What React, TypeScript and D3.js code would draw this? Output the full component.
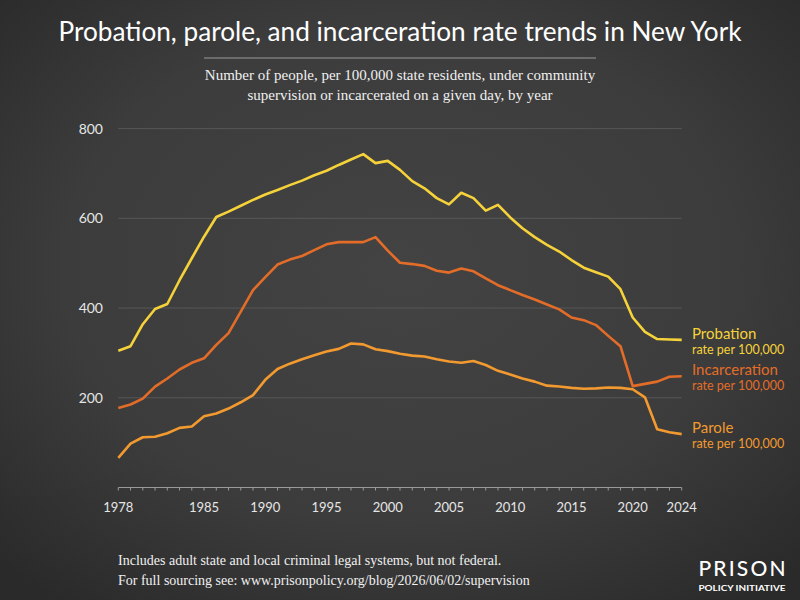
import React, { useEffect } from "react";
import * as d3 from "d3";

const years: number[] = d3.range(1978, 2025);

const probation: number[] = [
  305, 315, 364, 398, 409, 462, 511, 559, 603, 615, 628, 641, 653, 663, 674, 684,
  696, 706, 719, 731, 743, 723, 728, 708, 683, 667, 645, 631, 657, 645, 617, 630,
  602, 578, 558, 541, 526, 507, 490, 480, 470, 442, 379, 347, 331, 330, 329,
];

const incarceration: number[] = [
  177, 185, 198, 225, 243, 263, 278, 288, 318, 344, 392, 440, 469, 497, 508, 516,
  529, 542, 547, 547, 547, 558, 528, 501, 498, 494, 483, 479, 488, 482, 466, 451,
  440, 429, 419, 408, 397, 379, 373, 362, 338, 315, 226, 231, 236, 247, 248,
];

const parole: number[] = [
  66, 98, 112, 113, 121, 133, 136, 159, 165, 176, 190, 206, 240, 264, 276, 286,
  295, 303, 309, 321, 319, 308, 304, 298, 294, 292, 286, 281, 278, 282, 273, 260,
  252, 243, 236, 227, 225, 222, 220, 221, 223, 222, 219, 201, 130, 123, 119,
];

const seriesNames: string[] = ["Probation", "Incarceration", "Parole"];
const seriesColors: string[] = ["#f6d23a", "#e36d28", "#f29a30"];
const yTicks: number[] = [200, 400, 600, 800];
const xLabelYears: number[] = [1978, 1985, 1990, 1995, 2000, 2005, 2010, 2015, 2020, 2024];

export default function App() {
  useEffect(() => {
    document.body.style.margin = "0";
  }, []);

  const x = d3.scaleLinear().domain([1978, 2024]).range([118.3, 681.7]);
  const y = d3.scaleLinear().domain([0, 800]).range([487.5, 128.6]);

  const line = d3
    .line<number>()
    .x((_, i) => x(years[i]))
    .y((v) => y(v));

  const allSeries = [probation, incarceration, parole];
  const sans = "Lato, 'Open Sans', sans-serif";
  const serif = "'Liberation Serif', 'DejaVu Serif', serif";

  return (
    <svg
      width={800}
      height={600}
      style={{ position: "absolute", left: 0, top: 0, display: "block" }}
    >
      <defs>
        <radialGradient id="bg" cx="50%" cy="45%" r="70%">
          <stop offset="0%" stopColor="#434343" />
          <stop offset="60%" stopColor="#3c3c3c" />
          <stop offset="100%" stopColor="#2a2a2a" />
        </radialGradient>
      </defs>
      <rect x={0} y={0} width={800} height={600} fill="url(#bg)" />

      {/* Title */}
      <text
        x={400}
        y={41}
        textAnchor="middle"
        fill="#ffffff"
        fontFamily={sans}
        fontSize={26}
        textLength={683}
        lengthAdjust="spacingAndGlyphs"
      >
        Probation, parole, and incarceration rate trends in New York
      </text>
      <line x1={204} x2={596} y1={58} y2={58} stroke="#9a9a9a" strokeWidth={1} />
      <text x={400} y={80} textAnchor="middle" fill="#f0f0f0" fontFamily={serif} fontSize={15}>
        Number of people, per 100,000 state residents, under community
      </text>
      <text x={400} y={100} textAnchor="middle" fill="#f0f0f0" fontFamily={serif} fontSize={15}>
        supervision or incarcerated on a given day, by year
      </text>

      {/* Gridlines */}
      {yTicks.map((t) => (
        <line
          key={"g" + t}
          x1={x(1978)}
          x2={x(2024)}
          y1={y(t)}
          y2={y(t)}
          stroke="#575757"
          strokeWidth={1}
        />
      ))}
      {yTicks.map((t) => (
        <text
          key={"yl" + t}
          x={103}
          y={y(t) + 5}
          textAnchor="end"
          fill="#e6e6e6"
          fontFamily={sans}
          fontSize={14}
        >
          {t}
        </text>
      ))}

      {/* X axis */}
      <line x1={x(1978)} x2={x(2024)} y1={y(0)} y2={y(0)} stroke="#9a9a9a" strokeWidth={1} />
      {years.map((yr) => (
        <line
          key={"t" + yr}
          x1={x(yr)}
          x2={x(yr)}
          y1={y(0)}
          y2={y(0) + 3}
          stroke="#9a9a9a"
          strokeWidth={1}
        />
      ))}
      {xLabelYears.map((yr) => (
        <text
          key={"xl" + yr}
          x={x(yr)}
          y={512}
          textAnchor="middle"
          fill="#e6e6e6"
          fontFamily={sans}
          fontSize={13}
        >
          {yr}
        </text>
      ))}

      {/* Lines */}
      {allSeries.map((s, i) => (
        <path
          key={"l" + i}
          d={line(s) || ""}
          fill="none"
          stroke={seriesColors[i]}
          strokeWidth={2.6}
          strokeLinejoin="round"
        />
      ))}

      {/* Labels */}
      {allSeries.map((s, i) => {
        const ly = y(s[s.length - 1]) - 1;
        return (
          <g key={"lab" + i}>
            <text x={692} y={ly} fill={seriesColors[i]} fontFamily={sans} fontSize={15}>
              {seriesNames[i]}
            </text>
            <text x={692} y={ly + 15} fill={seriesColors[i]} fontFamily={sans} fontSize={12.5}>
              rate per 100,000
            </text>
          </g>
        );
      })}

      {/* Footer */}
      <text x={118} y={565} fill="#f0f0f0" fontFamily={serif} fontSize={14}>
        Includes adult state and local criminal legal systems, but not federal.
      </text>
      <text x={118} y={585} fill="#f0f0f0" fontFamily={serif} fontSize={14}>
        For full sourcing see: www.prisonpolicy.org/blog/2026/06/02/supervision
      </text>

      {/* Logo */}
      <text
        x={742}
        y={576}
        textAnchor="middle"
        fill="#ffffff"
        fontFamily={sans}
        fontSize={21}
        fontWeight={500}
        textLength={87}
        lengthAdjust="spacing"
      >
        PRISON
      </text>
      <text
        x={742}
        y={591}
        textAnchor="middle"
        fill="#ffffff"
        fontFamily={sans}
        fontSize={8}
        fontWeight={700}
        textLength={87}
        lengthAdjust="spacingAndGlyphs"
      >
        POLICY INITIATIVE
      </text>
    </svg>
  );
}
